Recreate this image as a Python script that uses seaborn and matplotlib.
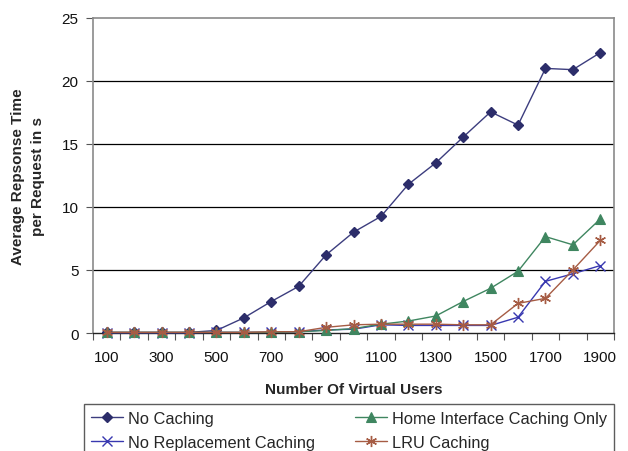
import matplotlib
matplotlib.use("Agg")
import matplotlib.pyplot as plt
import seaborn as sns
import pandas as pd
import numpy as np

# Number of virtual users (x categories)
users = [100, 200, 300, 400, 500, 600, 700, 800, 900, 1000,
         1100, 1200, 1300, 1400, 1500, 1600, 1700, 1800, 1900]

# Average response time per request (s)
no_caching = [0.05, 0.05, 0.05, 0.05, 0.2, 1.2, 2.5, 3.7, 6.2, 8.0,
              9.25, 11.8, 13.5, 15.55, 17.55, 16.5, 21.0, 20.9, 22.25]
home_interface = [0.05, 0.05, 0.05, 0.05, 0.05, 0.05, 0.05, 0.1, 0.2, 0.35,
                  0.7, 0.95, 1.35, 2.5, 3.55, 4.9, 7.65, 7.0, 9.05]
no_replacement = [0.02, 0.02, 0.02, 0.02, 0.05, 0.05, 0.05, 0.1, 0.25, 0.3,
                  0.65, 0.6, 0.6, 0.6, 0.6, 1.25, 4.1, 4.7, 5.35]
lru = [0.05, 0.05, 0.05, 0.05, 0.05, 0.05, 0.1, 0.1, 0.45, 0.65,
       0.7, 0.7, 0.7, 0.65, 0.65, 2.35, 2.75, 5.0, 7.35]

series_names = ["No Caching", "No Replacement Caching",
                "Home Interface Caching Only", "LRU Caching"]
series_values = [no_caching, no_replacement, home_interface, lru]
y_ticks = [0, 5, 10, 15, 20, 25]

styles = {
    "No Caching": dict(color="#3c3d7e", marker="D", mfc="#2c2d6a", mec="#2c2d6a", ms=5.5, mew=1.0),
    "No Replacement Caching": dict(color="#3838b0", marker="x", mfc="#3838b0", mec="#3838b0", ms=7, mew=1.0),
    "Home Interface Caching Only": dict(color="#3f8660", marker="^", mfc="#3f8660", mec="#3f8660", ms=7.5, mew=0.8),
    "LRU Caching": dict(color="#a65c44", marker=(6, 2, 0), mfc="#a65c44", mec="#a65c44", ms=8, mew=1.0),
}

idx = np.arange(len(users))
df = pd.concat([
    pd.DataFrame({"pos": idx, "value": vals, "series": name})
    for name, vals in zip(series_names, series_values)
], ignore_index=True)

sns.set_style("white")
plt.rcParams["font.family"] = ["Liberation Sans", "DejaVu Sans"]

fig = plt.figure(figsize=(6.28, 4.52), dpi=100)
ax = fig.add_axes([93 / 628, 1 - 334 / 452, (614 - 93) / 628, (334 - 19) / 452])

handles = {}
for name in series_names:
    st = styles[name]
    sub = df[df["series"] == name]
    sns.lineplot(data=sub, x="pos", y="value", ax=ax, color=st["color"],
                 linewidth=1.0, legend=False, estimator=None, sort=False)
    line = ax.lines[-1]
    line.set_marker(st["marker"])
    line.set_markersize(st["ms"])
    line.set_markerfacecolor(st["mfc"])
    line.set_markeredgecolor(st["mec"])
    line.set_markeredgewidth(st["mew"])
    line.set_clip_on(False)
    line.set_zorder(3)
    handles[name] = line

ax.set_xlim(-0.5, len(users) - 0.5)
ax.set_ylim(0, 25)

# Horizontal gridlines
for yv in y_ticks[1:-1]:
    ax.axhline(yv, color="black", linewidth=0.9, zorder=1)

# Category axis: ticks between categories, labels on every other category
ax.set_xticks(np.arange(-0.5, len(users), 1.0))
ax.set_xticklabels([])
ax.tick_params(axis="x", which="major", direction="out", length=5, width=0.8,
               color="#555555", bottom=True)
ax.set_xticks(idx[::2], minor=True)
ax.set_xticklabels([str(u) for u in users[::2]], minor=True)
ax.tick_params(axis="x", which="minor", length=0, pad=12.5, labelsize=11, labelcolor="#111111")

ax.set_yticks(y_ticks)
ax.set_yticklabels([str(v) for v in y_ticks])
ax.tick_params(axis="y", direction="out", length=5, width=0.8, color="#555555",
               left=True, pad=5.5, labelsize=11, labelcolor="#111111")

for side in ["left", "top", "right"]:
    ax.spines[side].set_color("#8a8a8a")
    ax.spines[side].set_linewidth(1.2)
ax.spines["bottom"].set_color("#222222")
ax.spines["bottom"].set_linewidth(1.0)

ax.set_xlabel("Number Of Virtual Users", fontsize=11, fontweight="bold", labelpad=13)
ax.set_ylabel("Average Repsonse Time\nper Request in s", fontsize=11,
              fontweight="bold", labelpad=12, linespacing=1.5)

order = ["No Caching", "No Replacement Caching", "Home Interface Caching Only", "LRU Caching"]
leg = fig.legend([handles[n] for n in order], order, ncol=2,
                 loc="upper left", bbox_to_anchor=(84 / 628, 1 - 405 / 452),
                 frameon=True, fancybox=False, fontsize=11.8,
                 handlelength=2.0, handletextpad=0.3, columnspacing=2.4,
                 labelspacing=0.55, borderpad=0.4, borderaxespad=0.0,
                 edgecolor="#333333")
leg.get_frame().set_linewidth(1.0)

fig.savefig("out.png", dpi=100)
